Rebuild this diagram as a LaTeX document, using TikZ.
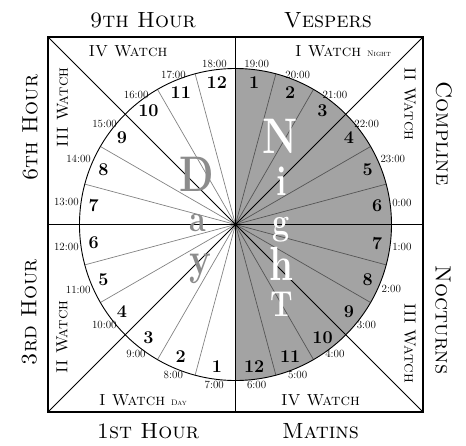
\documentclass[tikz,border=0pt]{standalone}
\usepackage{fontspec}
\definecolor{nightgray}{RGB}{163,163,163}
\definecolor{daylet}{RGB}{140,140,140}
\definecolor{dayline}{RGB}{130,130,130}
\definecolor{nightline}{RGB}{85,85,85}
\tikzset{
  outer/.style={font=\fontsize{22}{24}\selectfont\scshape, inner sep=0pt},
  watch/.style={font=\fontsize{16}{18}\selectfont\scshape, inner sep=0pt},
  num/.style={font=\fontsize{18}{20}\selectfont\bfseries, inner sep=0pt},
  tim/.style={font=\fontsize{11}{12}\selectfont, inner sep=1pt},
  bigday/.style={text=daylet, inner sep=0pt},
  bignight/.style={text=white, inner sep=0pt},
}
\newcommand{\bigL}[2]{\fontsize{#1}{#1}\selectfont\bfseries\scalebox{0.8}[1]{#2}}
\begin{document}
\begin{tikzpicture}[x=1pt,y=1pt]
\useasboundingbox (-235.5,-220.5) rectangle (230.5,224.5);
\def\R{156}
\def\S{187.5}
\coordinate (c) at (0,0);
\coordinate (tl) at (-\S,\S);
\coordinate (tr) at (\S,\S);
\coordinate (bl) at (-\S,-\S);
\coordinate (br) at (\S,-\S);
\coordinate (lm) at (-\S,0);
\coordinate (rm) at (\S,0);
\coordinate (tm) at (0,\S);
\coordinate (bm) at (0,-\S);
% night half
\fill[nightgray] (0,\R) arc[start angle=90,end angle=-90,radius=\R] -- cycle;
% hour lines
\foreach \a in {105,120,150,165,195,210,240,255}
  \draw[dayline, line width=0.7pt] (c) -- (\a:\R);
\foreach \a in {15,30,60,75,285,300,330,345}
  \draw[nightline, line width=0.7pt] (c) -- (\a:\R);
% axes and diagonals
\draw[line width=0.8pt] (lm) -- (rm);
\draw[line width=0.8pt] (tm) -- (bm);
\draw[line width=0.8pt] (bl) -- (tr);
\draw[line width=0.8pt] (tl) -- (br);
\fill (c) circle[radius=2];
% circle and square
\draw[line width=0.9pt] (c) circle[radius=\R];
\draw[line width=1.2pt] (bl) rectangle (tr);
% day hours
\foreach \k in {1,...,12}{
  \pgfmathsetmacro\m{277.5-15*\k}
  \pgfmathsetmacro\o{mod(\m+180,360)}
  \pgfmathtruncatemacro\t{6+\k}
  \node[num] (d\k) at (\m:143) {\k};
  \node[tim, anchor=\o] (dt\k) at (\m:\R+1) {\t:00};
}
% night hours
\foreach \k in {1,...,12}{
  \pgfmathsetmacro\m{97.5-15*\k}
  \pgfmathsetmacro\o{mod(\m+180+360,360)}
  \pgfmathtruncatemacro\t{mod(18+\k,24)}
  \node[num] (n\k) at (\m:143) {\k};
  \node[tim, anchor=\o] (nt\k) at (\m:\R+1) {\t:00};
}
% big words
\node[bigday] (lD) at (-38.5,50) {\bigL{50}{D}};
\node[bigday] (la) at (-37.5,1) {\bigL{38}{a}};
\node[bigday] (ly) at (-35.5,-44) {\bigL{46}{y}};
\node[bignight] (lN) at (44.5,88) {\bigL{50}{N}};
\node[bignight] (li) at (46,43) {\bigL{42}{i}};
\node[bignight] (lg) at (46,-5) {\bigL{38}{g}};
\node[bignight] (lh) at (46,-39) {\bigL{48}{h}};
\node[bignight] (lT) at (46,-80) {\bigL{36}{T}};
% watches
\node[watch] (w4top) at (-107.5,173.5) {IV Watch};
\node[watch] (w1n) at (107.5,173.5) {I Watch {\fontsize{8}{9}\selectfont Night}};
\node[watch, rotate=-90] (w2n) at (174.5,120.5) {II Watch};
\node[watch, rotate=-90] (w3n) at (174.5,-118.5) {III Watch};
\node[watch] (w4n) at (85,-175.5) {IV Watch};
\node[watch] (w1d) at (-92.5,-175.5) {I Watch {\fontsize{8}{9}\selectfont Day}};
\node[watch, rotate=90] (w2d) at (-173.5,-112.5) {II Watch};
\node[watch, rotate=90] (w3d) at (-173,117) {III Watch};
% hours of prayer
\node[outer] (h9) at (-92.5,204.5) {9th Hour};
\node[outer] (vesp) at (92.5,204.5) {Vespers};
\node[outer] (h1) at (-87.5,-206.5) {1st Hour};
\node[outer] (mat) at (85,-207) {Matins};
\node[outer, rotate=90] (h6) at (-205.5,97) {6th Hour};
\node[outer, rotate=90] (h3) at (-206.5,-87.5) {3rd Hour};
\node[outer, rotate=-90] (comp) at (208.5,91) {Compline};
\node[outer, rotate=-90] (noct) at (207.5,-95.5) {Nocturns};
\end{tikzpicture}
\end{document}
